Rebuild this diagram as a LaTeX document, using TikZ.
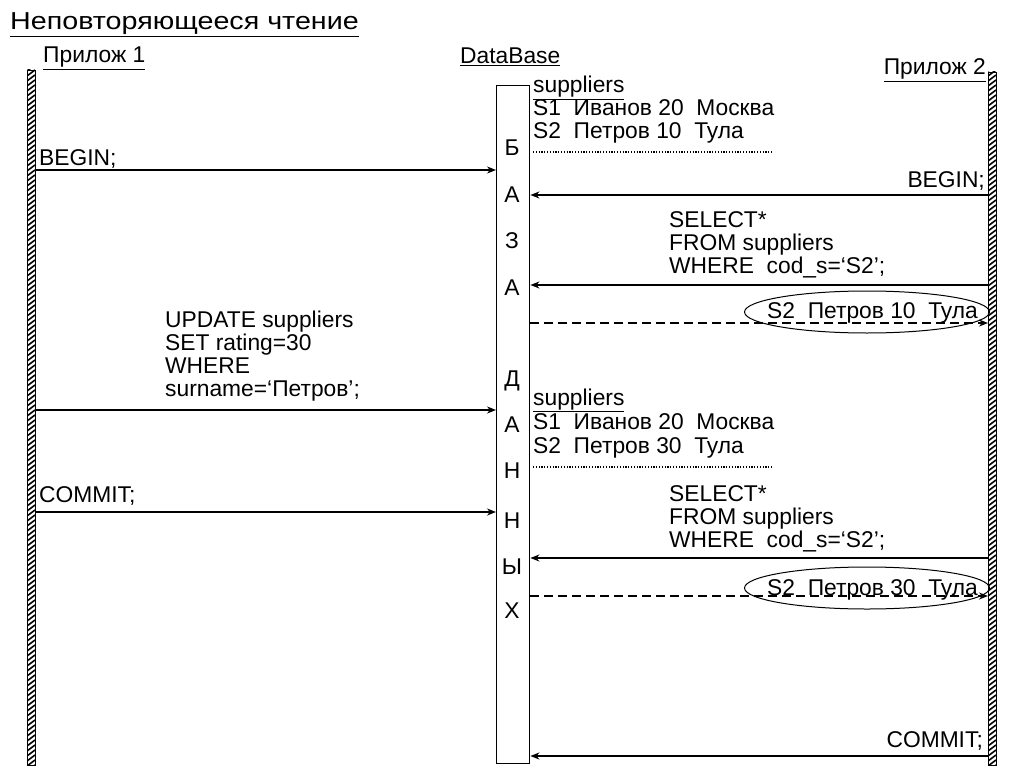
\documentclass[tikz,border=0pt]{standalone}
\usepackage{fontspec}
\setmainfont{Liberation Sans}
\newfontfamily\ttlfont[FakeStretch=1.17]{Liberation Sans}
\usetikzlibrary{arrows.meta,shapes.geometric}
\begin{document}
\begin{tikzpicture}[x=1pt,y=-1pt,
  txt/.style={inner sep=0pt, font=\fontsize{22.8}{24}\selectfont, anchor=base west},
  rtxt/.style={inner sep=0pt, font=\fontsize{22.8}{24}\selectfont, anchor=base east},
  ttl/.style={inner sep=0pt, font=\ttlfont\fontsize{24.5}{30}\selectfont, anchor=base west},
  msg/.style={line width=1.6pt, -{Stealth[length=9pt,width=7pt]}},
  reply/.style={line width=1.4pt, dash pattern=on 9pt off 5pt, -{Stealth[length=9pt,width=7pt]}},
  dots/.style={line width=1.2pt, dash pattern=on 1.2pt off 1.6pt},
  oval/.style={draw, ellipse, line width=1pt, minimum width=245pt, minimum height=42pt, inner sep=0pt},
  life/.style={draw, line width=1pt, minimum width=8pt, inner sep=0pt, anchor=north west},
  dbl/.style={inner sep=0pt, font=\fontsize{22.8}{24}\selectfont, anchor=base}
]
\useasboundingbox[fill=white] (0,0) rectangle (1024,767);

% title and headings
\node[ttl] (title) at (10,30) {\underline{Неповторяющееся чтение}};
\node[txt] (app1) at (43,63) {\underline{Прилож 1}};
\node[txt] (dbname) at (460,64) {\underline{DataBase}};
\node[rtxt] (app2) at (986,75) {\underline{Прилож 2}};

% hatched lifelines
\begin{scope}
\clip (27,70) rectangle (35,765);
\foreach \y in {60,65,...,775} \draw[line width=1.6pt] (27,\y+6) -- (35,\y);
\end{scope}
\node[life, minimum height=695pt] (lifeL) at (27,70) {};
\begin{scope}
\clip (988,72) rectangle (996,765);
\foreach \y in {60,65,...,775} \draw[line width=1.6pt] (988,\y+6) -- (996,\y);
\end{scope}
\node[life, minimum height=693pt] (lifeR) at (988,72) {};

% database box
\node[draw, line width=1.4pt, minimum width=33pt, minimum height=678pt, inner sep=0pt, anchor=north west] (db) at (496,85) {};
\node[dbl] (l1) at (512,156) {Б};
\node[dbl] (l2) at (512,203) {А};
\node[dbl] (l3) at (512,248) {З};
\node[dbl] (l4) at (512,295) {А};
\node[dbl] (l5) at (512,386) {Д};
\node[dbl] (l6) at (512,432) {А};
\node[dbl] (l7) at (512,478) {Н};
\node[dbl] (l8) at (512,528) {Н};
\node[dbl] (l9) at (512,574) {Ы};
\node[dbl] (l10) at (512,618) {Х};

% table 1
\node[txt] (t1h) at (533,93) {\underline{suppliers}};
\node[txt] (t1a) at (533,116) {S1\ \ Иванов 20\ \ Москва};
\node[txt] (t1b) at (533,139) {S2\ \ Петров 10\ \ Тула};
\coordinate (d1a) at (533,152);
\coordinate (d1b) at (773,152);
\draw[dots] (d1a) -- (d1b);

% table 2
\node[txt] (t2h) at (533,405) {\underline{suppliers}};
\node[txt] (t2a) at (533,429) {S1\ \ Иванов 20\ \ Москва};
\node[txt] (t2b) at (533,453) {S2\ \ Петров 30\ \ Тула};
\coordinate (d2a) at (533,467);
\coordinate (d2b) at (773,467);
\draw[dots] (d2a) -- (d2b);

% left messages
\node[txt] (begin1) at (39,166) {BEGIN;};
\draw[msg] (lifeL.east |- 0,170) -- (db.west |- 0,170);

\node[txt] (upd1) at (165,327) {UPDATE suppliers};
\node[txt] (upd2) at (165,350) {SET rating=30};
\node[txt] (upd3) at (165,373) {WHERE};
\node[txt] (upd4) at (165,396) {surname=‘Петров’;};
\draw[msg] (lifeL.east |- 0,410) -- (db.west |- 0,410);

\node[txt] (commit1) at (39,502) {COMMIT;};
\draw[msg] (lifeL.east |- 0,512) -- (db.west |- 0,512);

% right messages
\node[rtxt] (begin2) at (985,188) {BEGIN;};
\draw[msg] (lifeR.west |- 0,195) -- (db.east |- 0,195);

\node[txt] (sel1a) at (669,227) {SELECT*};
\node[txt] (sel1b) at (669,250) {FROM suppliers};
\node[txt] (sel1c) at (669,273) {WHERE\ \ cod\_s=‘S2’;};
\draw[msg] (lifeR.west |- 0,285) -- (db.east |- 0,285);

\node[oval] (ov1) at (867,312) {};
\node[txt] (r1) at (767,318) {S2\ \ Петров 10\ \ Тула};
\draw[reply] (db.east |- 0,323) -- (lifeR.west |- 0,323);

\node[txt] (sel2a) at (669,501) {SELECT*};
\node[txt] (sel2b) at (669,524) {FROM suppliers};
\node[txt] (sel2c) at (669,547) {WHERE\ \ cod\_s=‘S2’;};
\draw[msg] (lifeR.west |- 0,558) -- (db.east |- 0,558);

\node[oval] (ov2) at (867,588) {};
\node[txt] (r2) at (767,595) {S2\ \ Петров 30\ \ Тула};
\draw[reply] (db.east |- 0,596) -- (lifeR.west |- 0,596);

\node[rtxt] (commit2) at (983,747) {COMMIT;};
\draw[msg] (lifeR.west |- 0,756) -- (db.east |- 0,756);
\end{tikzpicture}
\end{document}
